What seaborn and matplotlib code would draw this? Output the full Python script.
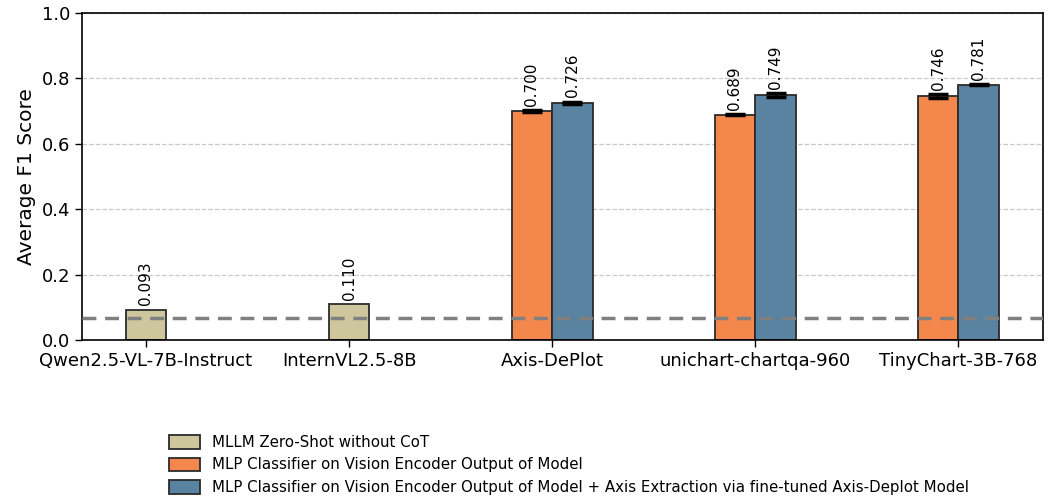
import matplotlib
matplotlib.use("Agg")
import matplotlib.pyplot as plt
import matplotlib.patches as mpatches
import seaborn as sns
import pandas as pd
import numpy as np

models = ["Qwen2.5-VL-7B-Instruct", "InternVL2.5-8B", "Axis-DePlot",
          "unichart-chartqa-960", "TinyChart-3B-768"]

zero_shot_models = ["Qwen2.5-VL-7B-Instruct", "InternVL2.5-8B"]
zero_shot_f1 = [0.093, 0.110]

mlp_models = ["Axis-DePlot", "unichart-chartqa-960", "TinyChart-3B-768"]
mlp_f1 = [0.700, 0.689, 0.746]
mlp_err = [0.002, 0.002, 0.005]
mlp_axis_f1 = [0.726, 0.749, 0.781]
mlp_axis_err = [0.003, 0.005, 0.002]

baseline = 0.067

series_names = ["MLLM Zero-Shot without CoT",
                "MLP Classifier on Vision Encoder Output of Model",
                "MLP Classifier on Vision Encoder Output of Model + Axis Extraction via fine-tuned Axis-Deplot Model"]
colors = ["#CEC79D", "#F4874B", "#5A83A2"]
edge = "#2b2b2b"

sns.set_style("ticks")
plt.rcParams["font.family"] = ["DejaVu Sans"]
plt.rcParams["text.color"] = "black"
plt.rcParams["axes.labelcolor"] = "black"
plt.rcParams["xtick.color"] = "black"
plt.rcParams["ytick.color"] = "black"

fig = plt.figure(figsize=(10.51, 5.0), dpi=100)
ax = fig.add_axes([0.078, 0.32, 0.914, 0.654])

zs = pd.DataFrame({"model": zero_shot_models, "f1": zero_shot_f1})
sns.barplot(data=zs, x="model", y="f1", order=models, color=colors[0],
            saturation=1, width=0.2, edgecolor=edge, linewidth=1.3,
            errorbar=None, ax=ax)

mlp = pd.DataFrame({
    "model": mlp_models * 2,
    "f1": mlp_f1 + mlp_axis_f1,
    "err": mlp_err + mlp_axis_err,
    "method": [series_names[1]] * 3 + [series_names[2]] * 3,
})
sns.barplot(data=mlp, x="model", y="f1", hue="method", order=models,
            hue_order=series_names[1:], palette=colors[1:], saturation=1,
            width=0.4, dodge=True, edgecolor=edge, linewidth=1.3,
            errorbar=None, legend=False, ax=ax)

# value labels and error bars on every bar
for bar, v in zip([b for b in ax.containers[0] if not np.isnan(b.get_height()) and b.get_height() > 0],
                  zero_shot_f1):
    cx = bar.get_x() + bar.get_width() / 2
    ax.annotate(f"{v:.3f}", (cx, v), xytext=(0, 3), textcoords="offset points",
                rotation=90, ha="center", va="bottom", fontsize=11)

for cont, vals, errs in zip(ax.containers[1:], [mlp_f1, mlp_axis_f1], [mlp_err, mlp_axis_err]):
    bars = [b for b in cont if not np.isnan(b.get_height()) and b.get_height() > 0]
    for bar, v, e in zip(bars, vals, errs):
        cx = bar.get_x() + bar.get_width() / 2
        ax.errorbar(cx, v, yerr=e, color="black", capsize=7, capthick=2.5,
                    elinewidth=1.5, fmt="none", zorder=4)
        ax.annotate(f"{v:.3f}", (cx, v + e), xytext=(0, 3), textcoords="offset points",
                    rotation=90, ha="center", va="bottom", fontsize=11)

ax.axhline(baseline, color="#808080", linestyle=(0, (4, 2.5)), linewidth=2.5, zorder=5)

ax.set_ylim(0, 1.0)
ax.set_yticks(np.arange(0, 1.01, 0.2))
ax.yaxis.grid(True, linestyle="--", color="#c8c8c8", linewidth=0.9)
ax.set_axisbelow(True)
ax.set_xlabel("")
ax.set_ylabel("Average F1 Score", fontsize=14.5)
ax.tick_params(axis="both", labelsize=13, length=5, width=1)
for s in ax.spines.values():
    s.set_linewidth(1.2)
    s.set_color("black")

handles = [mpatches.Patch(facecolor=c, edgecolor=edge, linewidth=1.3, label=n)
           for c, n in zip(colors, series_names)]
fig.legend(handles=handles, loc="upper left", bbox_to_anchor=(0.155, 0.142),
           frameon=False, fontsize=10.8, handlelength=2.1, handleheight=1.0,
           handletextpad=0.8, labelspacing=0.5, borderaxespad=0)

fig.savefig("out.png", dpi=100)
